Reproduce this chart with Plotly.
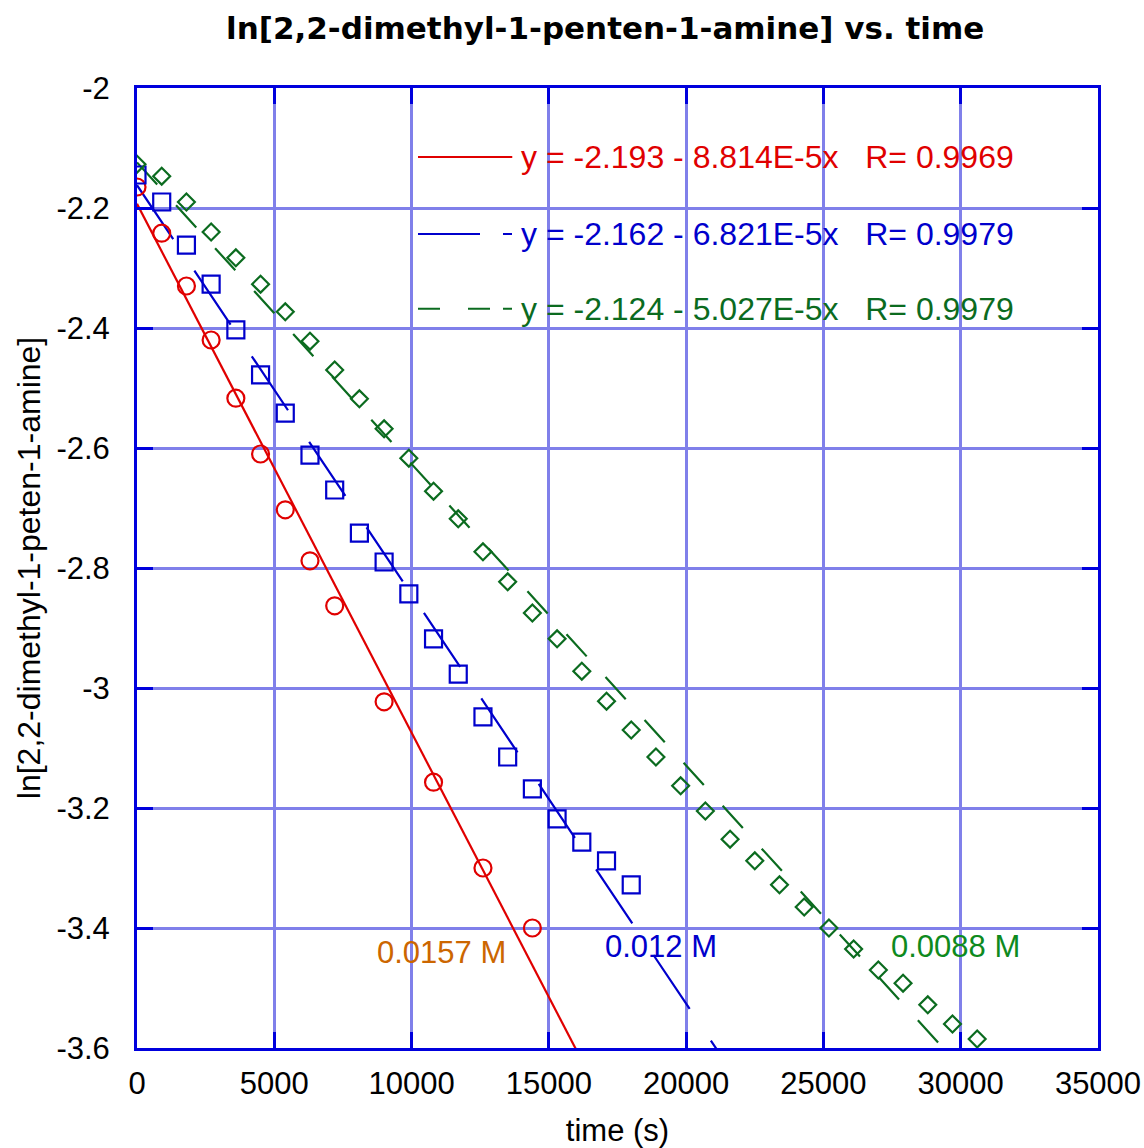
import plotly.graph_objects as go

# ---- data ----
t_red = [0, 900, 1800, 2700, 3600, 4500, 5400, 6300, 7200, 9000, 10800, 12600, 14400]
ln_red = [-2.165, -2.242, -2.330, -2.420, -2.517, -2.610, -2.703, -2.788, -2.863,
          -3.023, -3.157, -3.300, -3.400]

t_blue = [0, 900, 1800, 2700, 3600, 4500, 5400, 6300, 7200, 8100, 9000, 9900, 10800,
          11700, 12600, 13500, 14400, 15300, 16200, 17100, 18000]
ln_blue = [-2.145, -2.190, -2.262, -2.327, -2.403, -2.478, -2.542, -2.612, -2.670,
           -2.742, -2.790, -2.843, -2.918, -2.977, -3.048, -3.115, -3.168, -3.218,
           -3.257, -3.288, -3.328]

t_green = [0, 900, 1800, 2700, 3600, 4500, 5400, 6300, 7200, 8100, 9000, 9900, 10800,
           11700, 12600, 13500, 14400, 15300, 16200, 17100, 18000, 18900, 19800, 20700,
           21600, 22500, 23400, 24300, 25200, 26100, 27000, 27900, 28800, 29700, 30600]
ln_green = [-2.127, -2.147, -2.190, -2.240, -2.283, -2.327, -2.373, -2.422, -2.470,
            -2.518, -2.568, -2.617, -2.672, -2.718, -2.773, -2.823, -2.875, -2.918,
            -2.972, -3.022, -3.070, -3.115, -3.163, -3.205, -3.252, -3.288, -3.328,
            -3.365, -3.400, -3.435, -3.470, -3.492, -3.528, -3.560, -3.585]

fit_intercepts = [-2.193, -2.162, -2.124]
fit_slopes = [-8.814e-5, -6.821e-5, -5.027e-5]
fit_R = [0.9969, 0.9979, 0.9979]
conc_labels = ["0.0157 M", "0.012 M", "0.0088 M"]

x_ticks = [0, 5000, 10000, 15000, 20000, 25000, 30000, 35000]
y_ticks = [-2, -2.2, -2.4, -2.6, -2.8, -3, -3.2, -3.4, -3.6]

# ---- styles ----
RED = "#E00000"
BLUE = "#0000CC"
GREEN = "#0B6B1F"
ORANGE = "#CC6600"
AXIS = "#0000DD"
GRID = "rgb(128,128,234)"
FONT = "Liberation Sans, Arial, Helvetica, sans-serif"

colors = [RED, BLUE, GREEN]
symbols = ["circle-open", "square-open", "diamond-open"]
msizes = [17, 17, 13]
dashes = ["solid", "65px,38px", "30px,28px"]
series = [(t_red, ln_red), (t_blue, ln_blue), (t_green, ln_green)]

fig = go.Figure()

fit_x = [0, 35000]
for i in range(3):
    b, m = fit_intercepts[i], fit_slopes[i]
    fig.add_trace(go.Scatter(
        x=fit_x, y=[b + m * x for x in fit_x], mode="lines",
        line=dict(color=colors[i], width=2.2, dash=dashes[i]),
        showlegend=False, hoverinfo="skip"))

for i in range(3):
    tx, ty = series[i]
    fig.add_trace(go.Scatter(
        x=tx, y=ty, mode="markers",
        marker=dict(symbol=symbols[i], size=msizes[i], color=colors[i],
                    line=dict(width=2.2, color=colors[i])),
        showlegend=False))

# ---- legend (drawn manually) ----
leg_y = [0.928, 0.848, 0.770]
leg_dash = ["solid", "62px,23px,9px,200px", "22px,28px,22px,13px,9px,200px"]
for i in range(3):
    b, m, r = fit_intercepts[i], fit_slopes[i], fit_R[i]
    fig.add_shape(type="line", xref="paper", yref="paper",
                  x0=0.2924, x1=0.3905, y0=leg_y[i], y1=leg_y[i],
                  line=dict(color=colors[i], width=2, dash=leg_dash[i]))
    mant = f"{abs(m) * 1e5:.3f}E-5"
    txt = f"y = {b:.3f} - {mant}x\u00a0\u00a0\u00a0R= {r:.4f}"
    fig.add_annotation(xref="paper", yref="paper", x=0.397, y=leg_y[i],
                       xanchor="left", yanchor="middle", showarrow=False,
                       text=txt, font=dict(family=FONT, size=32, color=colors[i]))

# concentration labels
lab_pos = [(0.2477, 0.100), (0.485, 0.106), (0.7825, 0.106)]
lab_col = [ORANGE, BLUE, "#0E8A1E"]
for i in range(3):
    fig.add_annotation(xref="paper", yref="paper", x=lab_pos[i][0], y=lab_pos[i][1],
                       xanchor="left", yanchor="middle", showarrow=False,
                       text=conc_labels[i], font=dict(family=FONT, size=31, color=lab_col[i]))

axis_common = dict(
    showline=True, linecolor=AXIS, linewidth=3, mirror="ticks",
    ticks="inside", ticklen=16, tickwidth=3, tickcolor=AXIS,
    showgrid=True, gridcolor=GRID, gridwidth=3, zeroline=False,
    tickfont=dict(family=FONT, size=31, color="black"),
)

fig.update_xaxes(range=[0, 35000], tickvals=x_ticks, ticktext=[str(v) for v in x_ticks],
                 title=dict(text="time (s)", font=dict(family=FONT, size=31, color="black"),
                            standoff=24),
                 ticklabelstandoff=6, **axis_common)
fig.update_yaxes(range=[-3.6, -2], tickvals=y_ticks, ticktext=[f"{v:g}" for v in y_ticks],
                 title=dict(text="ln[2,2-dimethyl-1-peten-1-amine]",
                            font=dict(family=FONT, size=32, color="black"), standoff=7),
                 ticklabelstandoff=18, **axis_common)

fig.update_layout(
    width=1144, height=1148,
    margin=dict(l=137, r=46, t=88, b=100, autoexpand=False),
    paper_bgcolor="white", plot_bgcolor="white",
    title=dict(text="<b>ln[2,2-dimethyl-1-penten-1-amine] vs. time</b>",
               x=0.529, xanchor="center", y=1 - 28 / 1148, yanchor="middle",
               font=dict(family="DejaVu Sans, sans-serif", size=31, color="black")),
    showlegend=False,
)

fig.write_html("out.html")
